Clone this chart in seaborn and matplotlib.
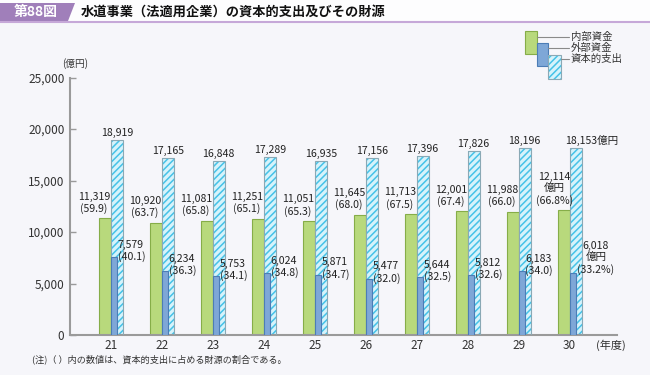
import pandas as pd
import numpy as np
import matplotlib.pyplot as plt
import matplotlib.patches as mpatches
import matplotlib.lines as mlines
import seaborn as sns

# --- data ---
years = ['21', '22', '23', '24', '25', '26', '27', '28', '29', '30']
internal = [11319, 10920, 11081, 11251, 11051, 11645, 11713, 12001, 11988, 12114]
internal_pct = [59.9, 63.7, 65.8, 65.1, 65.3, 68.0, 67.5, 67.4, 66.0, 66.8]
external = [7579, 6234, 5753, 6024, 5871, 5477, 5644, 5812, 6183, 6018]
external_pct = [40.1, 36.3, 34.1, 34.8, 34.7, 32.0, 32.5, 32.6, 34.0, 33.2]
capex = [18919, 17165, 16848, 17289, 16935, 17156, 17396, 17826, 18196, 18153]
yticks = [0, 5000, 10000, 15000, 20000, 25000]

df = pd.DataFrame({'year': years, 'idx': np.arange(len(years)),
                   'internal': internal, 'external': external, 'capex': capex})

sns.set_theme(style='ticks')
plt.rcParams['font.family'] = ['Noto Sans CJK JP', 'DejaVu Sans']
plt.rcParams['hatch.linewidth'] = 1.1

bg = '#f6f6fa'
green, green_edge = '#b8d97c', '#86ad48'
blue, blue_edge = '#7ea7d7', '#4c7db6'
cyan, cyan_hatch, cyan_edge = '#d6f3fb', '#45c2e8', '#8aa9b5'
grey = '#9a9a9a'

W, H = 650, 375
fig = plt.figure(figsize=(6.5, 3.75), dpi=100, facecolor=bg)
ax = fig.add_axes([70 / W, 1 - 335 / H, (617 - 70) / W, (335 - 77.5) / H])
ax.set_facecolor(bg)

gw = 0.235
# green (internal funds)
sns.barplot(x=df['idx'] - 0.118, y=df['internal'], native_scale=True, width=gw,
            color=green, saturation=1, edgecolor=green_edge, linewidth=0.8,
            errorbar=None, ax=ax, zorder=2)
# hatched (capital expenditure): hatch layer then border
sns.barplot(x=df['idx'] + 0.118, y=df['capex'], native_scale=True, width=gw,
            color=cyan, saturation=1, edgecolor=cyan_hatch, linewidth=0,
            hatch='/////', errorbar=None, ax=ax, zorder=2)
sns.barplot(x=df['idx'] + 0.118, y=df['capex'], native_scale=True, width=gw,
            fill=False, edgecolor=cyan_edge, linewidth=0.8,
            errorbar=None, ax=ax, zorder=3)
# blue (external funds) on top
sns.barplot(x=df['idx'] + 0.06, y=df['external'], native_scale=True, width=0.115,
            color=blue, saturation=1, edgecolor=blue_edge, linewidth=0.8,
            errorbar=None, ax=ax, zorder=4)

ax.set_xlim(-0.8, 9.93)
ax.set_ylim(0, 25000)
ax.set_xticks(df['idx'])
ax.set_xticklabels(years, fontsize=8.5, color='#333333')
ax.set_yticks(yticks)
ax.set_yticklabels([f'{v:,}' for v in yticks], fontsize=8.5, color='#333333')
ax.set_xlabel('')
ax.set_ylabel('')
ax.tick_params(axis='x', length=0, pad=3)
ax.tick_params(axis='y', direction='in', length=4, color=grey, width=1, pad=4)
for s in ['top', 'right']:
    ax.spines[s].set_visible(False)
for s in ['left', 'bottom']:
    ax.spines[s].set_color(grey)
    ax.spines[s].set_linewidth(1.5)

fs = 7.6
for i in range(len(years)):
    if i < 9:
        ax.text(i - 0.33, internal[i] + 450, f'{internal[i]:,}\n({internal_pct[i]:.1f})',
                ha='center', va='bottom', fontsize=fs, linespacing=1.15, color='#222222')
        ax.text(i + 0.135, external[i] - 500, f'{external[i]:,}\n({external_pct[i]:.1f})',
                ha='left', va='bottom', fontsize=fs, linespacing=1.15, color='#222222')
        ax.text(i + 0.118, capex[i] + 200, f'{capex[i]:,}',
                ha='center', va='bottom', fontsize=fs, color='#222222')
    else:
        ax.text(i - 0.3, internal[i] + 450, f'{internal[i]:,}\n億円\n({internal_pct[i]:.1f}%)',
                ha='center', va='bottom', fontsize=fs, linespacing=1.15, color='#222222')
        ax.text(i + 0.15, external[i] - 150, f'{external[i]:,}\n億円\n({external_pct[i]:.1f}%)',
                ha='left', va='bottom', multialignment='center', fontsize=fs,
                linespacing=1.15, color='#222222')
        ax.text(i - 0.09, capex[i] + 200, f'{capex[i]:,}億円',
                ha='left', va='bottom', fontsize=fs, color='#222222')

# unit labels
fig.text(62 / W, 1 - 64 / H, '(億円)', fontsize=7, ha='left', va='center', color='#333333')
fig.text(596 / W, 1 - 345 / H, '(年度)', fontsize=8, ha='left', va='center', color='#333333')
fig.text(32 / W, 1 - 359 / H, '(注)（ ）内の数値は、資本的支出に占める財源の割合である。',
         fontsize=6.6, ha='left', va='center', color='#333333')


# header
def fx(x):
    return x / W


def fy(y):
    return 1 - y / H


fig.patches.append(mpatches.Rectangle((0, fy(22)), 1, fy(0) - fy(22), transform=fig.transFigure,
                                      facecolor='#fdfdfe', edgecolor='none', zorder=0))
purple = '#a07fba'
fig.patches.append(mpatches.Polygon([(fx(0), fy(3)), (fx(75), fy(3)), (fx(68), fy(21)), (fx(0), fy(21))],
                                    closed=True, transform=fig.transFigure,
                                    facecolor=purple, edgecolor='none', zorder=1))
fig.lines.append(mlines.Line2D([fx(0), 1], [fy(22), fy(22)], transform=fig.transFigure,
                               color='#c6a8d8', linewidth=1.5))
fig.text(fx(36), fy(12), '第88図', fontsize=10, color='white', ha='center', va='center',
         fontweight='bold')
fig.text(fx(81), fy(12), '水道事業（法適用企業）の資本的支出及びその財源', fontsize=9.5,
         color='#111111', ha='left', va='center', fontweight='bold')


# legend (drawn by hand to match the offset boxes)
def box(x0, y0, x1, y1, **kw):
    fig.patches.append(mpatches.Rectangle((fx(x0), fy(y1)), fx(x1) - fx(x0), fy(y0) - fy(y1),
                                          transform=fig.transFigure, **kw))


box(525, 31, 537, 54, facecolor=green, edgecolor=green_edge, linewidth=0.8)
box(537, 43, 548, 66, facecolor=blue, edgecolor=blue_edge, linewidth=0.8)
box(548, 55, 561, 79, facecolor=cyan, edgecolor=cyan_hatch, linewidth=0, hatch='/////')
box(548, 55, 561, 79, facecolor='none', edgecolor=cyan_edge, linewidth=0.8)
for x0, y, lab in [(537, 37, '内部資金'), (548, 48, '外部資金'), (561, 59, '資本的支出')]:
    fig.lines.append(mlines.Line2D([fx(x0), fx(569)], [fy(y), fy(y)], transform=fig.transFigure,
                                   color='#8a8a8a', linewidth=0.8))
    fig.text(fx(571), fy(y), lab, fontsize=7.5, ha='left', va='center', color='#333333')

fig.savefig('out.png', dpi=100, facecolor=bg)
